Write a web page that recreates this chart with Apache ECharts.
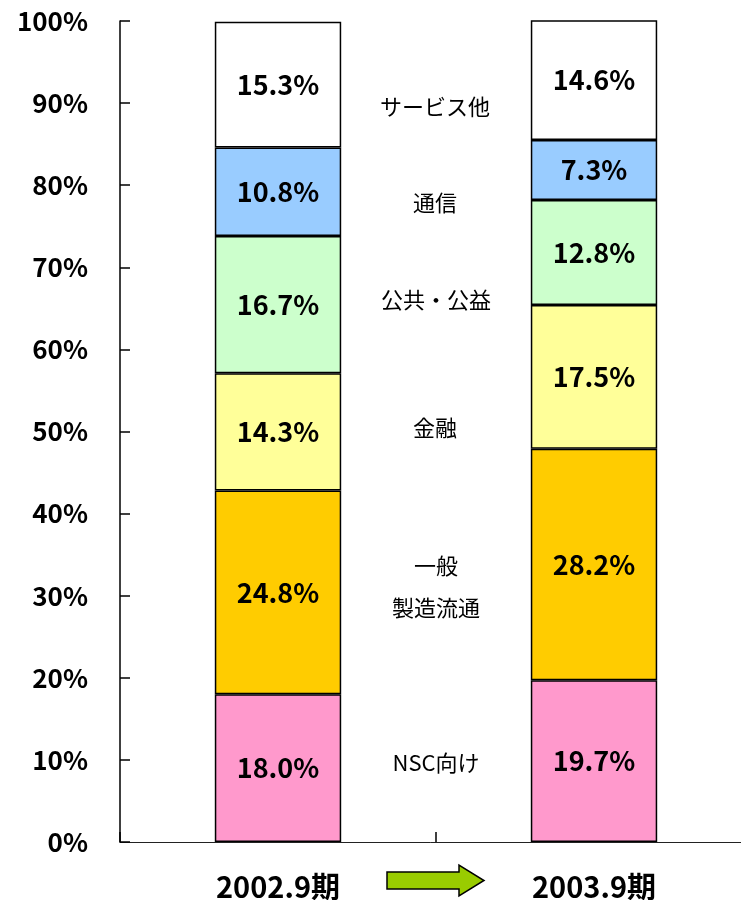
<!DOCTYPE html>
<html lang="ja">
<head>
    <meta http-equiv="Content-Type" content="text/html; charset=utf-8" />
    <title>業種別売上構成</title>
    <script src="https://cdn.jsdelivr.net/npm/echarts@6/dist/echarts.min.js"></script>
    <style>
        html, body { margin: 0; padding: 0; background: #fff; }
        #main { width: 741px; height: 900px; }
    </style>
</head>
<body>
<div id="main"></div>
<script>
    // データ
    var categories = ['2002.9期', '2003.9期'];
    var nsc = [18.0, 19.7];          // NSC向け
    var seizo = [24.8, 28.2];        // 一般製造流通
    var kinyu = [14.3, 17.5];        // 金融
    var kokyo = [16.7, 12.8];        // 公共・公益
    var tsushin = [10.8, 7.3];       // 通信
    var service = [15.3, 14.6];      // サービス他

    var font = '"Noto Sans CJK JP", sans-serif';

    function makeSeries(name, data, color) {
        return {
            name: name,
            type: 'bar',
            stack: 'total',
            barWidth: '40%',
            data: data,
            itemStyle: { color: color, borderColor: '#000', borderWidth: 1.5 },
            label: {
                show: true,
                position: 'inside',
                color: '#000',
                fontFamily: font,
                fontWeight: 'bold',
                fontSize: 27,
                formatter: function (p) { return p.value.toFixed(1) + '%'; }
            }
        };
    }

    // 中央の業種名
    function midText(txt, x, y) {
        return {
            type: 'text',
            x: x,
            y: y,
            style: {
                text: txt,
                fill: '#000',
                font: '22px ' + font,
                align: 'center',
                verticalAlign: 'middle'
            }
        };
    }

    var myChart = echarts.init(document.getElementById('main'));
    var option = {
        animation: false,
        grid: { left: 120, top: 21, width: 632, bottom: 58, containLabel: false, outerBoundsMode: 'none' },
        xAxis: {
            type: 'category',
            data: categories,
            axisLine: { lineStyle: { color: '#222', width: 1 } },
            axisTick: { show: true, inside: true, length: 10, lineStyle: { color: '#000', width: 1.5 } },
            axisLabel: {
                color: '#000',
                fontFamily: font,
                fontWeight: 'bold',
                fontSize: 29,
                margin: 30
            }
        },
        yAxis: {
            type: 'value',
            min: 0,
            max: 100,
            interval: 10,
            splitLine: { show: false },
            axisLine: { show: true, lineStyle: { color: '#000', width: 1.5 } },
            axisTick: { show: true, inside: true, length: 10, lineStyle: { color: '#000', width: 1.5 } },
            axisLabel: {
                color: '#000',
                fontFamily: font,
                fontWeight: 'bold',
                fontSize: 26,
                margin: 32,
                formatter: '{value}%'
            }
        },
        series: [
            makeSeries('NSC向け', nsc, '#FF99CC'),
            makeSeries('一般製造流通', seizo, '#FFCC00'),
            makeSeries('金融', kinyu, '#FFFF99'),
            makeSeries('公共・公益', kokyo, '#CCFFCC'),
            makeSeries('通信', tsushin, '#99CCFF'),
            makeSeries('サービス他', service, '#FFFFFF')
        ],
        graphic: [
            midText('サービス他', 435, 107),
            midText('通信', 435, 203),
            midText('公共・公益', 436, 300),
            midText('金融', 435, 428),
            midText('一般', 436, 566),
            midText('製造流通', 436, 608),
            midText('NSC向け', 436, 763),
            {
                type: 'polygon',
                shape: {
                    points: [[387, 872], [459, 872], [459, 865], [484, 880.5], [459, 896], [459, 889], [387, 889]]
                },
                style: { fill: '#99CC00', stroke: '#000', lineWidth: 1.5 }
            }
        ]
    };
    myChart.setOption(option);
</script>
</body>
</html>
